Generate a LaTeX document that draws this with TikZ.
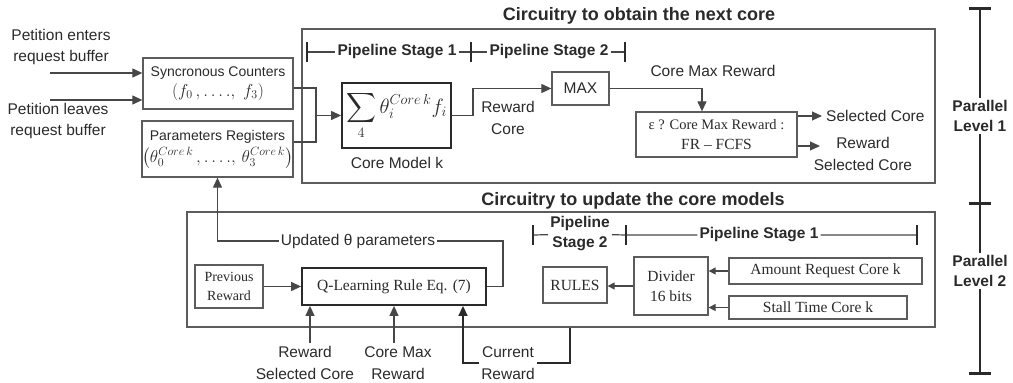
\documentclass[tikz,border=0pt]{standalone}
\usepackage{exscale}
\usepackage{fontspec}
\setmainfont{Liberation Serif}
\setsansfont{Liberation Sans}
\usetikzlibrary{arrows.meta}
\definecolor{ink}{HTML}{2A2A2A}
\definecolor{frame}{HTML}{5C5C5C}
\definecolor{wire}{HTML}{474747}

\begin{document}
\begin{tikzpicture}[x=1pt,y=-1pt,
  every node/.style={text=ink, inner sep=2pt, align=center},
  box/.style={draw=frame, line width=1.3pt, inner sep=0pt},
  thickbox/.style={draw=ink, line width=1.8pt, inner sep=0pt},
  sflabel/.style={font=\sffamily\fontsize{15.5}{21.5}\selectfont},
  sfsmall/.style={font=\sffamily\fontsize{14}{18}\selectfont},
  sfbold/.style={font=\sffamily\bfseries\fontsize{15.5}{20}\selectfont},
  headline/.style={font=\sffamily\bfseries\fontsize{18}{21}\selectfont},
  rmlabel/.style={font=\rmfamily\fontsize{15.5}{20}\selectfont},
  wireline/.style={draw=wire, line width=1.2pt},
  arr/.style={wireline, -{Triangle[length=10pt,width=9pt]}},
  sarr/.style={wireline, -{Triangle[length=7pt,width=7pt]}},
  stagetick/.style={draw=ink, line width=2.6pt},
  levelbar/.style={draw=ink, line width=2pt},
  leveltick/.style={draw=ink, line width=3pt},
]
\useasboundingbox (0,0) rectangle (1013,383);

% enclosing frames of the two circuits
\node[box, minimum width=633pt, minimum height=154pt] (topbox) at (618.5,106) {};
\node[box, minimum width=748pt, minimum height=115pt] (botbox) at (561,269.5) {};
\node[headline] (toptitle) at (639,16) {Circuitry to obtain the next core};
\node[headline] (bottitle) at (633,201) {Circuitry to update the core models};

% request buffer events and registers
\node[sflabel] (pin) at (61,47) {Petition enters\\request buffer};
\node[sflabel] (pout) at (58,121) {Petition leaves\\request buffer};
\node[box, minimum width=150pt, minimum height=51pt, sfsmall] (sync) at (218,83.5)
  {Syncronous Counters\\[2pt] {\fontsize{18}{18}\selectfont $(f_0\,,\ldots.,\; f_3)$}};
\node[box, minimum width=149pt, minimum height=56pt, sfsmall] (param) at (217.5,149)
  {Parameters Registers\\[4pt] {\fontsize{17}{18}\selectfont $\bigl(\theta_0^{Core\,k}\,,\ldots.,\,\theta_3^{Core\,k}\bigr)$}};
\coordinate (pe) at (50,73);
\coordinate (pl) at (50,100);
\draw[arr] (pe) -- (pe -| sync.west);
\draw[arr] (pl) -- (pl -| sync.west);

% pipeline stages of the core selection
\coordinate (s1a) at (307,52);
\coordinate (s1b) at (471,52);
\coordinate (s2b) at (625,52);
\node[sfbold] (ps1) at (397,52) {Pipeline Stage 1};
\node[sfbold] (ps2) at (549,52) {Pipeline Stage 2};
\draw[wireline] (s1a) -- (ps1) -- (s1b) -- (ps2) -- (s2b);
\foreach \c in {s1a,s1b,s2b} \draw[stagetick] (\c) ++(0,-10) -- ++(0,20);

% core model evaluation
\node[thickbox, minimum width=109pt, minimum height=65pt] (sum) at (396.5,115.5)
  {\fontsize{21}{24}\selectfont $\displaystyle\sum_{4}\theta_i^{Core\,k} f_i$};
\node[sflabel] (cmk) at (397,163) {Core Model k};
\coordinate (jt) at (316,88);
\coordinate (jb) at (316,142);
\coordinate (jm) at (316,115.5);
\draw[wireline] (sync.east |- jt) -- (jt) -- (jb) -- (param.east |- jb);
\draw[arr] (jm) -- (sum.west);

\node[box, minimum width=57pt, minimum height=33pt, sflabel] (max) at (580.5,88.5) {MAX};
\node[sflabel] (rcore) at (508,118) {Reward\\Core};
\draw[arr] (sum.east) -- ++(21,0) |- (max.west);

\node[sflabel] (cmr) at (713,71) {Core Max Reward};
\node[box, minimum width=161pt, minimum height=45pt, rmlabel] (eps) at (716.5,134.5)
  {{\fontsize{14.5}{20}\selectfont ε ? Core Max Reward :}\\FR – FCFS};
\coordinate (cmx) at (702,88.5);
\draw[arr] (max.east) -- (cmx) -- (cmx |- eps.north);

\node[sflabel, anchor=west, inner sep=4pt] (selc) at (822,116) {Selected Core};
\node[sflabel] (rsel) at (863,154) {Reward\\Selected Core};
\coordinate (rselin) at (820,146);
\draw[arr] (eps.east |- selc.west) -- (selc.west);
\draw[arr] (eps.east |- rselin) -- (rselin);

% parallel levels
\coordinate (ptop) at (980,8);
\coordinate (pmid) at (980,203);
\coordinate (pbot) at (980,373);
\node[sfbold] (par1) at (980,116) {Parallel\\Level 1};
\node[sfbold] (par2) at (980,271) {Parallel\\Level 2};
\draw[levelbar] (ptop) -- (par1) -- (pmid) -- (par2) -- (pbot);
\foreach \c in {ptop,pmid,pbot} \draw[leveltick] (\c) ++(-11,0) -- ++(22,0);

% pipeline stages of the model update
\coordinate (b2a) at (533,235);
\coordinate (b2b) at (626,235);
\coordinate (b1b) at (917,235);
\node[sfbold] (bps2) at (580,234) {Pipeline\\Stage 2};
\node[sfbold] (bps1) at (759,235) {Pipeline Stage 1};
\draw[wireline] (b2a) -- (bps2) -- (b2b) -- (bps1) -- (b1b);
\foreach \c in {b2a,b2b,b1b} \draw[stagetick] (\c) ++(0,-10) -- ++(0,20);

% reward computation
\node[box, minimum width=64pt, minimum height=36pt, rmlabel] (rules) at (575,285) {RULES};
\node[box, minimum width=74pt, minimum height=58pt, rmlabel] (div) at (671,286) {Divider\\16 bits};
\node[box, minimum width=193pt, minimum height=26pt, rmlabel] (amt) at (825.5,271) {Amount Request Core k};
\node[box, minimum width=178pt, minimum height=23pt, rmlabel] (stall) at (818,307.5) {Stall Time Core k};
\draw[sarr] (amt.west) -- (amt.west -| div.east);
\draw[sarr] (stall.west) -- (stall.west -| div.east);
\draw[sarr] (div.west) -- (div.west -| rules.east);

% Q-learning update
\node[box, minimum width=68pt, minimum height=43pt, font=\rmfamily\fontsize{14}{19}\selectfont] (prev) at (229,286.5) {Previous\\Reward};
\node[thickbox, minimum width=184pt, minimum height=37pt, rmlabel] (qrule) at (394,286.5) {Q-Learning Rule Eq. (7)};
\draw[arr] (prev) -- (qrule);

\coordinate (fbr) at (503,241);
\coordinate (fbl) at (217.5,241);
\node[sflabel] (upd) at (358,241) {Updated θ parameters};
\draw[arr] (qrule.east) -| (fbr) -- (upd) -- (fbl) -- (param.south);

\node[sflabel] (rsc) at (305,363) {Reward\\Selected Core};
\node[sflabel] (cmrin) at (398,363) {Core Max\\Reward};
\node[sflabel] (cur) at (508,363) {Current\\Reward};
\coordinate (a1) at (310,343);
\coordinate (a2) at (394,343);
\draw[arr] (a1) -- (a1 |- qrule.south);
\draw[arr] (a2) -- (a2 |- qrule.south);
\coordinate (cr1) at (570,363);
\coordinate (cr2) at (463,363);
\draw[arr, line width=1.5pt, draw=ink] (cr1 |- botbox.south) -- (cr1) -- (cur) -- (cr2) -- (cr2 |- qrule.south);
\end{tikzpicture}
\end{document}
